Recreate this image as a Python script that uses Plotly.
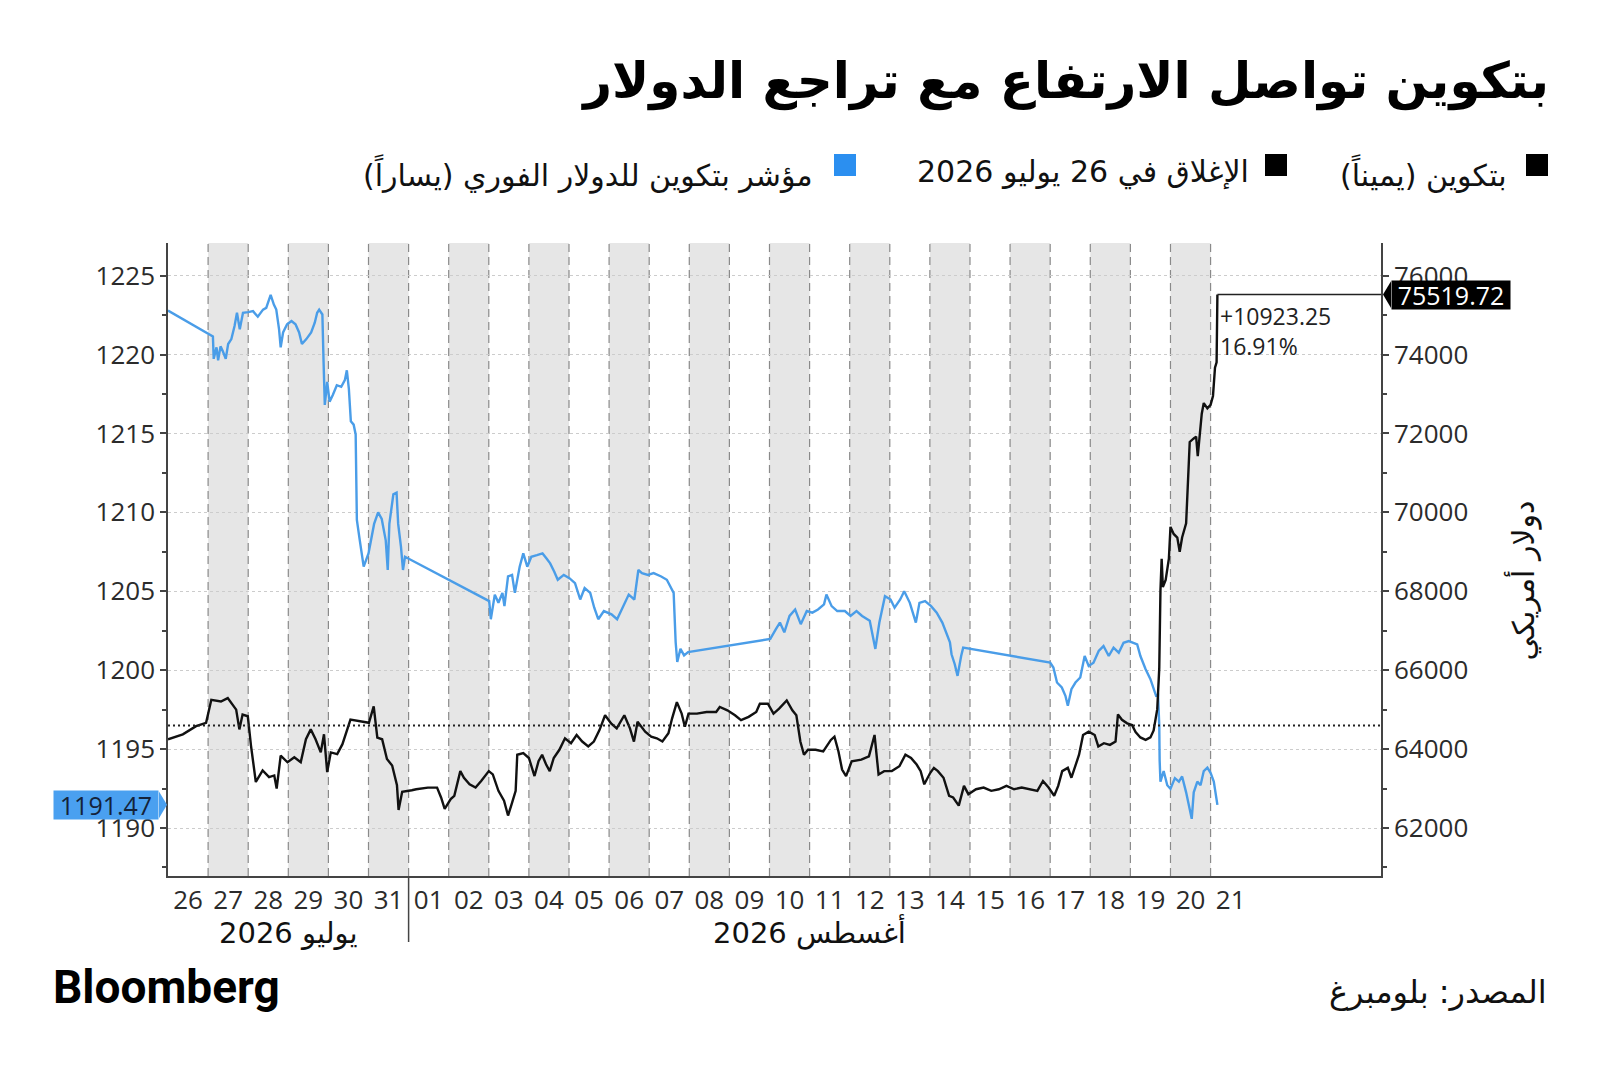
import pandas as pd
import plotly.graph_objects as go

# ---- data (days counted from 26 Jul 2026 00:00) ----
btc_days = [0.00, 0.37, 0.70, 0.95, 1.08, 1.32, 1.49, 1.70, 1.78, 1.86, 1.99, 2.07, 2.19, 2.36, 2.52,
            2.65, 2.71, 2.81, 2.98, 3.15, 3.31, 3.44, 3.56, 3.68, 3.81, 3.89, 3.97, 4.06, 4.22, 4.35,
            4.55, 4.76, 5.01, 5.13, 5.22, 5.34, 5.46, 5.59, 5.71, 5.75, 5.84, 6.08, 6.19, 6.48, 6.71,
            6.81, 6.90, 7.05, 7.14, 7.29, 7.38, 7.52, 7.67, 7.81, 8.00, 8.10, 8.24, 8.38, 8.48, 8.57,
            8.67, 8.71, 8.86, 9.00, 9.14, 9.24, 9.33, 9.43, 9.52, 9.62, 9.76, 9.90, 10.05, 10.19, 10.33,
            10.48, 10.62, 10.76, 10.90, 11.05, 11.19, 11.38, 11.52, 11.62, 11.71, 11.90, 12.05, 12.19,
            12.33, 12.48, 12.57, 12.69, 12.81, 12.89, 12.98, 13.19, 13.43, 13.67, 13.76, 13.95, 14.14,
            14.29, 14.48, 14.67, 14.76, 14.96, 15.10, 15.24, 15.43, 15.57, 15.67, 15.77, 15.86, 15.96,
            16.15, 16.34, 16.53, 16.62, 16.72, 16.81, 16.91, 17.05, 17.29, 17.48, 17.62, 17.72, 17.86,
            18.05, 18.24, 18.39, 18.53, 18.67, 18.77, 18.86, 19.01, 19.10, 19.20, 19.34, 19.48, 19.58,
            19.72, 19.85, 19.96, 20.15, 20.34, 20.53, 20.72, 20.91, 21.10, 21.29, 21.49, 21.68, 21.82,
            21.96, 22.10, 22.20, 22.30, 22.44, 22.53, 22.63, 22.72, 22.82, 22.96, 23.11, 23.20, 23.34,
            23.49, 23.63, 23.69, 23.79, 23.92, 24.04, 24.13, 24.25, 24.38, 24.50, 24.58, 24.67, 24.72,
            24.75, 24.78, 24.81, 24.88, 24.96, 25.00, 25.08, 25.17, 25.23, 25.29, 25.39, 25.43, 25.48,
            25.58, 25.64, 25.68, 25.73, 25.78, 25.83, 25.92, 26.00, 26.06, 26.11, 26.15, 26.17]
btc_values = [64250, 64375, 64583, 64667, 65250, 65208, 65292, 65000, 64500, 64875, 64833, 64083, 63167,
              63458, 63292, 63333, 63000, 63833, 63667, 63792, 63667, 64250, 64500, 64250, 63917, 64375,
              63417, 63917, 63875, 64125, 64750, 64708, 64667, 65083, 64292, 64250, 63750, 63583, 63083,
              62458, 62917, 62958, 62983, 63025, 63025, 62775, 62483, 62733, 62817, 63442, 63275, 63108,
              63025, 63192, 63442, 63358, 62942, 62692, 62317, 62608, 62942, 63858, 63900, 63775, 63317,
              63692, 63858, 63608, 63442, 63775, 63983, 64275, 64150, 64358, 64192, 64067, 64192, 64483,
              64858, 64650, 64525, 64858, 64525, 64192, 64692, 64442, 64317, 64275, 64192, 64400, 64775,
              65192, 64900, 64567, 64900, 64900, 64942, 64942, 65067, 64983, 64858, 64733, 64817, 64942,
              65150, 65150, 64900, 65025, 65233, 64983, 64858, 64192, 63858, 63983, 63983, 63942, 64233,
              64317, 63942, 63483, 63317, 63692, 63733, 63817, 64358, 63358, 63442, 63442, 63567, 63858,
              63775, 63608, 63442, 63108, 63400, 63525, 63442, 63275, 62817, 62775, 62567, 63067, 62858,
              62983, 63025, 62942, 62983, 63067, 62983, 63025, 62983, 62942, 63192, 63025, 62817, 63067,
              63442, 63525, 63275, 63567, 63858, 64358, 64442, 64358, 64067, 64150, 64108, 64192, 64878,
              64744, 64654, 64610, 64430, 64296, 64233, 64296, 64475, 65013, 66045, 68018, 68825, 68108,
              68287, 68825, 69632, 69453, 69363, 69004, 69363, 69722, 70529, 71785, 71874, 71919, 71426,
              72054, 72502, 72771, 72637, 72726, 72951, 73668, 73803, 75519.72]

usd_days = [0.00, 1.12, 1.14, 1.21, 1.25, 1.31, 1.37, 1.44, 1.50, 1.58, 1.66, 1.72, 1.79, 1.87, 2.00,
            2.12, 2.24, 2.37, 2.45, 2.52, 2.56, 2.64, 2.70, 2.77, 2.81, 2.87, 2.97, 3.08, 3.18, 3.27,
            3.34, 3.45, 3.57, 3.66, 3.72, 3.77, 3.85, 3.88, 3.91, 3.97, 4.03, 4.11, 4.21, 4.32, 4.41,
            4.46, 4.51, 4.56, 4.63, 4.68, 4.71, 4.78, 4.88, 5.00, 5.14, 5.24, 5.33, 5.43, 5.48, 5.52,
            5.62, 5.70, 5.74, 5.81, 5.86, 5.91, 8.01, 8.05, 8.15, 8.24, 8.34, 8.39, 8.48, 8.58, 8.65,
            8.77, 8.86, 8.96, 9.06, 9.20, 9.34, 9.44, 9.53, 9.63, 9.72, 9.87, 10.01, 10.15, 10.28,
            10.39, 10.53, 10.63, 10.73, 10.87, 11.06, 11.20, 11.35, 11.49, 11.63, 11.73, 11.82, 11.97,
            12.11, 12.30, 12.44, 12.54, 12.61, 12.66, 12.70, 12.78, 12.87, 12.97, 15.02, 15.16, 15.26,
            15.37, 15.50, 15.64, 15.78, 15.93, 16.07, 16.21, 16.36, 16.42, 16.55, 16.69, 16.88, 17.02,
            17.17, 17.31, 17.50, 17.64, 17.74, 17.88, 18.02, 18.12, 18.26, 18.36, 18.50, 18.65, 18.74,
            18.88, 19.03, 19.17, 19.31, 19.50, 19.54, 19.62, 19.69, 19.78, 19.83, 22.00, 22.08, 22.17,
            22.29, 22.38, 22.44, 22.53, 22.63, 22.75, 22.86, 22.96, 23.08, 23.21, 23.33, 23.46, 23.58,
            23.71, 23.83, 23.96, 24.08, 24.17, 24.25, 24.38, 24.50, 24.58, 24.64, 24.69, 24.72, 24.73,
            24.75, 24.83, 24.92, 25.00, 25.11, 25.21, 25.29, 25.39, 25.46, 25.53, 25.58, 25.67, 25.75,
            25.83, 25.92, 26.00, 26.08, 26.17]
usd_values = [1222.79, 1221.15, 1219.73, 1220.46, 1219.63, 1220.52, 1220.19, 1219.73, 1220.67, 1220.98,
              1221.81, 1222.65, 1221.60, 1222.65, 1222.69, 1222.75, 1222.40, 1222.85, 1222.96, 1223.48,
              1223.79, 1223.17, 1222.85, 1221.60, 1220.46, 1221.40, 1221.92, 1222.13, 1221.92, 1221.40,
              1220.67, 1220.98, 1221.40, 1222.02, 1222.65, 1222.85, 1222.54, 1219.52, 1216.81, 1218.27,
              1217.02, 1217.44, 1218.06, 1217.96, 1218.38, 1219.00, 1217.85, 1215.77, 1215.56, 1214.94,
              1209.52, 1208.27, 1206.56, 1207.40, 1209.27, 1210.00, 1209.58, 1208.23, 1206.35, 1209.27,
              1211.15, 1211.25, 1209.27, 1207.81, 1206.35, 1207.19, 1204.38, 1203.23, 1204.79, 1204.27,
              1204.90, 1204.06, 1205.94, 1206.04, 1204.90, 1206.56, 1207.40, 1206.56, 1207.19, 1207.29,
              1207.40, 1207.08, 1206.77, 1206.25, 1205.73, 1206.04, 1205.83, 1205.52, 1204.48, 1205.21,
              1204.90, 1203.96, 1203.23, 1203.75, 1203.54, 1203.23, 1204.06, 1204.79, 1204.48, 1206.35,
              1206.15, 1206.04, 1206.15, 1205.94, 1205.73, 1205.21, 1204.90, 1201.77, 1200.52, 1201.35,
              1200.94, 1201.15, 1201.98, 1202.60, 1203.02, 1202.40, 1203.44, 1203.85, 1202.92, 1203.75,
              1203.65, 1203.85, 1204.17, 1204.79, 1204.06, 1203.75, 1203.75, 1203.44, 1203.75, 1203.44,
              1203.13, 1201.35, 1203.02, 1204.69, 1204.48, 1203.96, 1204.48, 1205.00, 1204.27, 1203.02,
              1204.27, 1204.38, 1204.06, 1203.65, 1203.02, 1201.77, 1201.01, 1200.38, 1199.64, 1200.90,
              1201.43, 1200.48, 1200.17, 1199.22, 1198.91, 1198.38, 1197.75, 1198.80, 1199.22, 1199.54,
              1200.90, 1200.27, 1200.48, 1201.22, 1201.53, 1200.90, 1201.43, 1201.11, 1201.74, 1201.85,
              1201.70, 1201.64, 1200.90, 1200.06, 1199.43, 1198.80, 1198.38, 1198.43, 1196.52, 1194.28,
              1192.94, 1193.61, 1192.71, 1192.49, 1193.16, 1192.94, 1193.27, 1192.26, 1191.37, 1190.58,
              1192.26, 1192.94, 1192.71, 1193.61, 1193.83, 1193.50, 1192.94, 1191.47]

btc_close_jul26 = 64596.47
btc_change = 10923.25
btc_change_pct = 16.91

day_labels = ["26", "27", "28", "29", "30", "31", "01", "02", "03", "04", "05", "06", "07", "08",
              "09", "10", "11", "12", "13", "14", "15", "16", "17", "18", "19", "20", "21"]
left_ticks = [1190, 1195, 1200, 1205, 1210, 1215, 1220, 1225]
right_ticks = [62000, 64000, 66000, 68000, 70000, 72000, 74000, 76000]

title_text = "بتكوين تواصل الارتفاع مع تراجع الدولار"
legend_btc = "بتكوين (يميناً)"
legend_close = "الإغلاق في 26 يوليو 2026"
legend_usd = "مؤشر بتكوين للدولار الفوري (يساراً)"
month_jul = "يوليو 2026"
month_aug = "أغسطس 2026"
right_title = "دولار أمريكي"
source_text = "المصدر: بلومبرغ"

BLUE = "#4a9de8"
TICK_FONT = dict(family="Open Sans, DejaVu Sans", size=26, color="#2b2b2b")
AR_FONT = "DejaVu Sans"

base = pd.Timestamp("2026-07-26")
btc_x = base + pd.to_timedelta(btc_days, unit="D")
usd_x = base + pd.to_timedelta(usd_days, unit="D")
day_starts = [base + pd.Timedelta(days=i) for i in range(len(day_labels))]
x_end = base + pd.Timedelta(days=30.25)

# the page body keeps an 8px margin, so the figure is drawn 8px smaller
# and every position below is given in screen pixels
OFF = 8
W, H = 1600 - 2 * OFF, 1073 - 2 * OFF
L, R, T, B = 168, 1381, 243, 876   # plot box on screen


def px(x):
    return (x - L) / (R - L)


def py(y):
    return (B - y) / (B - T)


fig = go.Figure()

fig.add_trace(go.Scatter(x=usd_x, y=usd_values, mode="lines", yaxis="y",
                         line=dict(color=BLUE, width=2.4), name=legend_usd))
fig.add_trace(go.Scatter(x=btc_x, y=btc_values, mode="lines", yaxis="y2",
                         line=dict(color="#111111", width=2.4), name=legend_btc))

shapes = []
# alternating day bands
for i in range(1, len(day_starts) - 1, 2):
    shapes.append(dict(type="rect", xref="x", yref="paper", x0=day_starts[i], x1=day_starts[i + 1],
                       y0=0, y1=1, fillcolor="#e6e6e6", line=dict(width=0), layer="below"))
# dashed day separators
for d in day_starts[1:]:
    shapes.append(dict(type="line", xref="x", yref="paper", x0=d, x1=d, y0=0, y1=1,
                       line=dict(color="#8a8a8a", width=1.2, dash="8px,5px"), layer="below"))
# month separator below the axis
shapes.append(dict(type="line", xref="x", yref="paper", x0=day_starts[6], x1=day_starts[6],
                   y0=py(942), y1=0, line=dict(color="#444444", width=1.5)))
# close on 26 July
shapes.append(dict(type="line", xref="paper", yref="y2", x0=0, x1=1,
                   y0=btc_close_jul26, y1=btc_close_jul26,
                   line=dict(color="#222222", width=2, dash="2px,3px")))
# last price line to the axis
shapes.append(dict(type="line", xref="x", yref="y2", x0=btc_x[-1], x1=x_end,
                   y0=btc_values[-1], y1=btc_values[-1], line=dict(color="#222222", width=1.5)))

# pointer tips of the two last-value boxes
usd_last, btc_last = usd_values[-1], btc_values[-1]
shapes.append(dict(type="path", xref="paper", yref="y", fillcolor="#4aa0f0", line=dict(width=0),
                   path=f"M {px(159)},{usd_last + 0.85} L {px(167)},{usd_last} "
                        f"L {px(159)},{usd_last - 0.85} Z"))
shapes.append(dict(type="path", xref="paper", yref="y2", fillcolor="#000000", line=dict(width=0),
                   path=f"M {px(1391)},{btc_last + 340} L {px(1383)},{btc_last} "
                        f"L {px(1391)},{btc_last - 340} Z"))

annotations = [
    dict(xref="paper", yref="y", x=0, y=usd_last, xanchor="right", yanchor="middle",
         xshift=-9, text=f"{usd_last:.2f}", showarrow=False, bgcolor="#4aa0f0",
         font=dict(family="Open Sans", size=25, color="#14233a"), width=104, height=28,
         borderpad=0),
    dict(xref="paper", yref="y2", x=1, y=btc_last, xanchor="left", yanchor="middle",
         xshift=10, text=f"{btc_last:.2f}", showarrow=False, bgcolor="#000000",
         font=dict(family="Open Sans", size=25, color="#ffffff"), width=118, height=28,
         borderpad=0),
    dict(xref="x", yref="y2", x=btc_x[-1], y=btc_last, xanchor="left", yanchor="top",
         xshift=1, yshift=-3, align="left", showarrow=False,
         text=f"+{btc_change:.2f}<br>{btc_change_pct:.2f}%",
         font=dict(family="Open Sans", size=23, color="#222222")),
    dict(xref="x", yref="paper", x=day_starts[3], y=py(952), text=month_jul, showarrow=False,
         font=dict(family=AR_FONT, size=29, color="#111111")),
    dict(xref="x", yref="paper", x=day_starts[16], y=py(952), text=month_aug, showarrow=False,
         font=dict(family=AR_FONT, size=29, color="#111111")),
    dict(xref="paper", yref="paper", x=px(1543), y=py(581), text=right_title, textangle=-90,
         showarrow=False, font=dict(family=AR_FONT, size=30, color="#111111")),
    # legend row
    dict(xref="paper", yref="paper", x=px(1509), y=py(152), xanchor="right", text=legend_btc,
         showarrow=False, font=dict(family=AR_FONT, size=30, color="#111111")),
    dict(xref="paper", yref="paper", x=px(1251), y=py(152), xanchor="right", text=legend_close,
         showarrow=False, font=dict(family=AR_FONT, size=30, color="#111111")),
    dict(xref="paper", yref="paper", x=px(815), y=py(152), xanchor="right", text=legend_usd,
         showarrow=False, font=dict(family=AR_FONT, size=30, color="#111111")),
    # footer
    dict(xref="paper", yref="paper", x=px(51), y=py(1016), xanchor="left", text="<b>Bloomberg</b>",
         showarrow=False, font=dict(family="Roboto", size=46, color="#000000")),
    dict(xref="paper", yref="paper", x=px(1549), y=py(1013), xanchor="right", text=source_text,
         showarrow=False, font=dict(family=AR_FONT, size=32, color="#111111")),
]

# legend squares
for x0, col in [(1526, "#000000"), (1265, "#000000"), (834, "#2b8ff0")]:
    shapes.append(dict(type="rect", xref="paper", yref="paper", x0=px(x0), x1=px(x0 + 22),
                       y0=py(176), y1=py(154), fillcolor=col, line=dict(width=0)))

fig.update_layout(
    width=W, height=H, autosize=False,
    margin=dict(l=L - OFF, r=W - (R - OFF), t=T - OFF, b=H - (B - OFF)),
    paper_bgcolor="white", plot_bgcolor="white",
    showlegend=False,
    title=dict(text=f"<b>{title_text}</b>", xref="container", yref="container",
               x=(1549 - OFF) / W, xanchor="right", y=1 - (80 - OFF) / H, yanchor="middle",
               font=dict(family=AR_FONT, size=50, color="#000000")),
    xaxis=dict(type="date", range=[base, x_end], tickmode="array",
               tickvals=[d + pd.Timedelta(hours=12) for d in day_starts], ticktext=day_labels,
               ticks="", showgrid=False, showline=True, linecolor="#444444", linewidth=1.5,
               tickfont=TICK_FONT, zeroline=False),
    yaxis=dict(range=[1186.96, 1227.07], tickmode="array", tickvals=left_ticks,
               ticks="outside", ticklen=6, tickwidth=2, tickcolor="#444444",
               showline=True, linecolor="#444444", linewidth=1.5,
               showgrid=True, gridcolor="#cccccc", griddash="dot", gridwidth=1,
               minor=dict(dtick=2.5, ticks="outside", ticklen=4, tickcolor="#444444", showgrid=False),
               tickfont=TICK_FONT, zeroline=False),
    yaxis2=dict(range=[60784, 76828], overlaying="y", side="right", tickmode="array",
                tickvals=right_ticks, tickformat="d",
                ticks="outside", ticklen=6, tickwidth=2, tickcolor="#444444",
                showline=True, linecolor="#444444", linewidth=1.5, showgrid=False,
                minor=dict(dtick=1000, ticks="outside", ticklen=4, tickcolor="#444444"),
                tickfont=TICK_FONT, zeroline=False),
    shapes=shapes,
    annotations=annotations,
)

fig.write_html("out.html")
